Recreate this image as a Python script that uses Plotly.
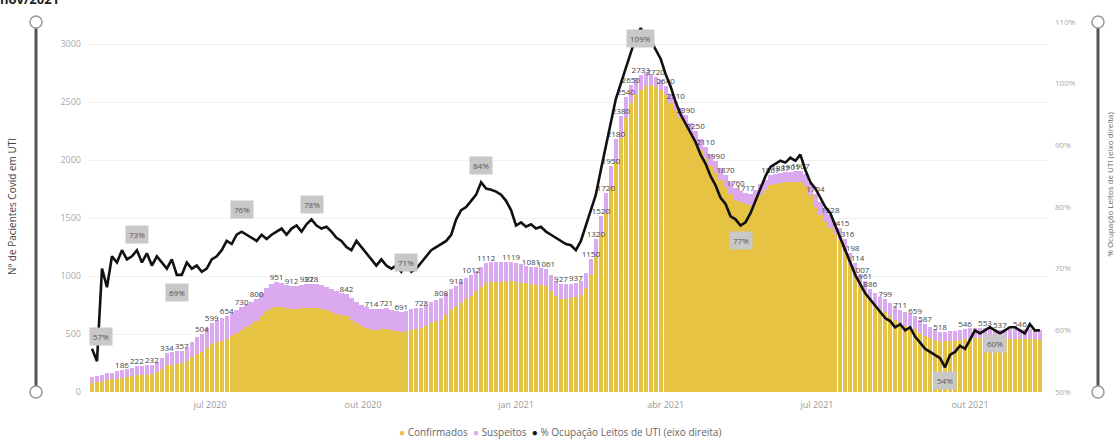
import pandas as pd
import plotly.graph_objects as go

# Pacientes Covid em UTI (amostra a cada 3 dias) e % de ocupação de leitos de UTI
datas = pd.date_range("2020-04-21", periods=191, freq="3D")

confirmados = [
    80, 87, 94, 102, 108, 114, 120, 126, 136, 144,
    147, 149, 152, 172, 200, 230, 236, 242, 247, 270,
    298, 325, 348, 380, 413, 430, 444, 454, 480, 505,
    532, 559, 584, 608, 652, 695, 720, 737, 730, 720,
    712, 718, 724, 727, 728, 726, 718, 705, 692, 675,
    663, 652, 622, 595, 567, 549, 534, 536, 539, 541,
    532, 524, 517, 525, 535, 542, 548, 568, 592, 608,
    623, 664, 704, 732, 765, 799, 832, 867, 905, 940,
    948, 952, 952, 954, 957, 950, 943, 936, 929, 925,
    920, 915, 870, 828, 801, 806, 812, 815, 836, 900,
    1010, 1165, 1350, 1540, 1760, 1985, 2190, 2365, 2490, 2565,
    2603, 2635, 2645, 2630, 2605, 2560, 2490, 2428, 2365, 2302,
    2230, 2158, 2086, 2014, 1952, 1890, 1828, 1766, 1706, 1658,
    1635, 1619, 1615, 1648, 1700, 1742, 1781, 1795, 1802, 1809,
    1813, 1813, 1811, 1780, 1695, 1594, 1528, 1468, 1418, 1362,
    1310, 1214, 1098, 1016, 911, 865, 788, 748, 714, 689,
    656, 624, 593, 572, 559, 545, 512, 487, 466, 452,
    434, 436, 440, 444, 451, 458, 460, 462, 464, 465,
    461, 456, 452, 455, 458, 460, 461, 459, 456, 453,
    449,
]

suspeitos = [
    50, 53, 56, 58, 60, 63, 66, 70, 74, 78,
    79, 80, 80, 86, 95, 104, 106, 108, 110, 120,
    132, 145, 156, 170, 186, 190, 196, 200, 200, 200,
    198, 196, 194, 192, 198, 205, 210, 214, 210, 205,
    200, 200, 200, 200, 200, 202, 202, 200, 198, 195,
    192, 190, 188, 185, 183, 181, 180, 180, 180, 180,
    178, 176, 174, 175, 177, 178, 180, 182, 183, 184,
    185, 186, 186, 186, 185, 183, 180, 178, 175, 172,
    170, 168, 166, 164, 162, 160, 157, 154, 152, 150,
    148, 146, 140, 132, 126, 124, 122, 122, 124, 130,
    140, 155, 170, 180, 190, 195, 190, 175, 160, 145,
    130, 115, 100, 90, 85, 80, 80, 82, 85, 88,
    90, 92, 94, 96, 98, 100, 102, 104, 104, 102,
    100, 98, 95, 92, 90, 88, 86, 85, 85, 86,
    88, 92, 96, 100, 105, 110, 112, 112, 110, 108,
    105, 102, 100, 98, 96, 96, 98, 102, 106, 110,
    114, 116, 118, 118, 116, 114, 108, 100, 94, 88,
    84, 84, 85, 86, 87, 88, 88, 88, 88, 88,
    87, 86, 85, 85, 85, 85, 85, 84, 84, 83,
    83,
]

ocupacao_uti = [
    57, 55, 70, 67, 72, 71, 73, 71.5, 72, 73,
    71, 72.5, 70.5, 72, 71, 70, 71.5, 69, 69, 71,
    70, 70.5, 69.5, 70, 71.5, 72, 73, 74.5, 74, 75.5,
    76, 75.5, 75, 74.5, 75.5, 74.8, 75.5, 76, 76.5, 75.5,
    76.5, 77, 76, 77.2, 78, 77, 76.5, 76.8, 76, 75,
    74.5, 73.5, 73, 74.5, 73.5, 72.5, 71.5, 70.5, 71.5, 70.5,
    70, 70.5, 69.5, 71, 69.5, 70, 71, 72, 73, 73.5,
    74, 74.5, 75.5, 78, 79.5, 80, 81, 82, 84, 83,
    82.8, 82.5, 82, 81, 79.5, 77, 77.5, 76.8, 77.2, 76.5,
    76.8, 76, 75.5, 75, 74.5, 74, 73.8, 73, 74.5, 77,
    79.5, 82, 86, 90, 94, 97.5, 100, 102.5, 105, 107.5,
    109, 107.5, 107, 105.5, 104, 101.5, 99.5, 97, 95, 93.5,
    92, 90.5, 88.5, 87, 85, 83.5, 81.5, 80.5, 78.5, 78,
    77, 77.5, 79, 81, 83, 85, 86.5, 87, 87.5, 87.2,
    88, 87.5, 88.5, 86, 84, 83, 81.5, 80, 79, 77,
    75, 73, 71, 69, 67.5, 66, 65, 64, 63, 62,
    61.5, 60.5, 61, 60, 60.5, 59, 58, 57, 56.5, 56,
    55.5, 54, 56, 56.5, 57.5, 57, 58.5, 60, 59.5, 60,
    60.5, 60, 59.5, 60, 60.5, 60.5, 60, 59.5, 61, 60,
    60,
]

# bars whose stacked total gets a value label
rotulos_barras = [
    6, 9, 12, 15, 18, 22, 24, 27, 30, 33, 37, 40, 43, 44, 51, 56, 59, 62, 66,
    70, 73, 76, 79, 84, 88, 91, 94, 97, 100, 101, 102, 103, 104, 105, 106,
    107, 108, 110, 113, 115, 117, 119, 121, 123, 125, 127, 129, 131, 136,
    138, 140, 142, 145, 148, 150, 151, 152, 153, 154, 155, 156, 159, 162,
    165, 167, 170, 175, 179, 182, 186,
]

# occupancy points labelled with a grey box: (index, vertical offset px, horizontal offset px)
rotulos_ocupacao = [
    (0, 12, 9), (9, 16, 0), (17, -18, 0), (30, 22, 0), (44, 15, 0),
    (63, 0, 0), (78, 17, 0), (110, -10, 0), (130, -15, 0), (171, -13, 0),
    (181, -13, 0),
]

ticks_x = ["2020-07-01", "2020-10-01", "2021-01-01", "2021-04-01", "2021-07-01", "2021-10-01"]
ticks_x_texto = ["jul 2020", "out 2020", "jan 2021", "abr 2021", "jul 2021", "out 2021"]
ticks_y = [0, 500, 1000, 1500, 2000, 2500, 3000]
ticks_y2 = [50, 60, 70, 80, 90, 100, 110]

COR_CONF = "#E7C344"
COR_SUSP = "#DBA9F0"
COR_LINHA = "#111111"
FONTE = "Open Sans"

totais = [c + s for c, s in zip(confirmados, suspeitos)]

fig = go.Figure()
fig.add_trace(go.Bar(x=datas, y=confirmados, name="Confirmados",
                     marker=dict(color=COR_CONF, line=dict(width=0))))
fig.add_trace(go.Bar(x=datas, y=suspeitos, name="Suspeitos",
                     marker=dict(color=COR_SUSP, line=dict(width=0))))
fig.add_trace(go.Scatter(
    x=[datas[i] for i in rotulos_barras],
    y=[totais[i] for i in rotulos_barras],
    text=[str(totais[i]) for i in rotulos_barras],
    mode="text", textposition="top center",
    textfont=dict(size=8, color="#444", family=FONTE),
    showlegend=False, hoverinfo="skip", cliponaxis=False,
))
fig.add_trace(go.Scatter(x=datas, y=ocupacao_uti, yaxis="y2",
                         name="% Ocupação Leitos de UTI (eixo direita)",
                         mode="lines", line=dict(color=COR_LINHA, width=2.6)))

anotacoes = []
for i, dy, dx in rotulos_ocupacao:
    anotacoes.append(dict(
        x=datas[i], y=ocupacao_uti[i], xref="x", yref="y2",
        text=f"{ocupacao_uti[i]:.0f}%", showarrow=False,
        yshift=dy, xshift=dx, bgcolor="#C8C8C8", borderpad=3,
        font=dict(size=8, color="#555", family=FONTE),
    ))

# axis titles
anotacoes.append(dict(x=-76 / 960, y=0.5, xref="paper", yref="paper",
                      xanchor="center", yanchor="middle",
                      text="Nº de Pacientes Covid em UTI", textangle=-90,
                      showarrow=False, font=dict(size=10, color="#444", family=FONTE)))
anotacoes.append(dict(x=(1110 - 88) / 960, y=0.56, xref="paper", yref="paper",
                      xanchor="center", yanchor="middle",
                      text="% Ocupação Leitos de UTI (eixo direita)", textangle=-90,
                      showarrow=False, font=dict(size=8, color="#666", family=FONTE)))
# legend
anotacoes.append(dict(
    x=(560 - 88) / 960, y=-40 / 370, xref="paper", yref="paper",
    xanchor="center", yanchor="middle",
    text=(f"<span style='color:{COR_CONF}'>●</span> Confirmados  "
          f"<span style='color:{COR_SUSP}'>●</span> Suspeitos  "
          f"<span style='color:{COR_LINHA}'>●</span> % Ocupação Leitos de UTI (eixo direita)"),
    showarrow=False, font=dict(size=10, color="#666", family=FONTE)))
# page title (partly above the page edge)
anotacoes.append(dict(x=-90 / 960, y=1 + 22 / 370, xref="paper", yref="paper",
                      xanchor="left", yanchor="middle", yshift=1,
                      text="<b>nov/2021</b>", showarrow=False,
                      font=dict(size=13, color="#222", family=FONTE)))

# zoom sliders on both sides
formas = []
for xs in [(36 - 88) / 960, (1098 - 88) / 960]:
    formas.append(dict(type="line", xref="paper", yref="paper", x0=xs, x1=xs,
                       y0=0, y1=1, line=dict(color="#555", width=3), layer="above"))
    for yc in [0, 1]:
        formas.append(dict(type="circle", xref="paper", yref="paper",
                           x0=xs - 6 / 960, x1=xs + 6 / 960,
                           y0=yc - 6 / 370, y1=yc + 6 / 370,
                           fillcolor="white", line=dict(color="#999", width=1.5),
                           layer="above"))

fig.update_layout(
    width=1118, height=441,
    margin=dict(l=88, r=70, t=22, b=49),
    paper_bgcolor="white", plot_bgcolor="white",
    barmode="stack", bargap=0.12,
    showlegend=False,
    font=dict(family=FONTE, color="#999"),
    xaxis=dict(type="date", range=["2020-04-18 14:00", "2021-11-16 22:00"],
               tickvals=ticks_x, ticktext=ticks_x_texto, showgrid=False,
               showline=False, zeroline=False, ticks="", ticklabelstandoff=6,
               tickfont=dict(size=9, color="#999")),
    yaxis=dict(range=[0, 3190], tickvals=ticks_y, showgrid=True,
               gridcolor="#F1F1F1", zeroline=False, ticks="",
               ticklabelstandoff=6, tickfont=dict(size=9, color="#aaa")),
    yaxis2=dict(range=[50, 110], overlaying="y", side="right",
                tickvals=ticks_y2, ticktext=[f"{v}%" for v in ticks_y2],
                showgrid=False, zeroline=False, ticks="",
                ticklabelstandoff=6, tickfont=dict(size=8, color="#aaa")),
    annotations=anotacoes, shapes=formas,
)

fig.write_html("out.html")
